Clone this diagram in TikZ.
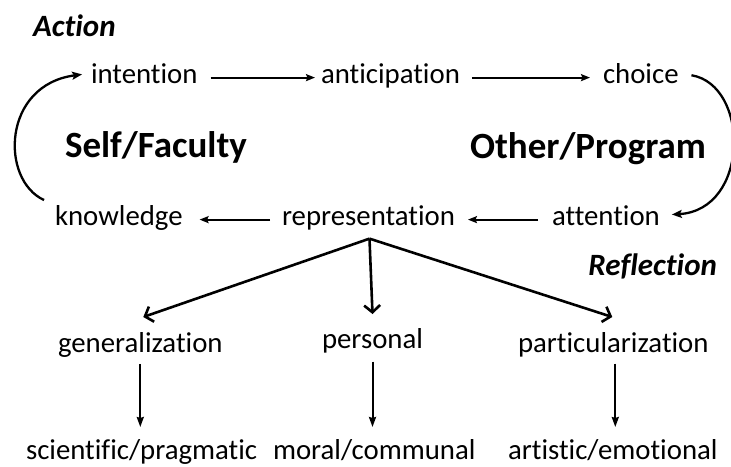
\documentclass[tikz,border=0pt]{standalone}
\usepackage{fontspec}
\setmainfont{Carlito}[Ligatures={NoCommon,NoContextual}]
\usetikzlibrary{arrows.meta,calc}
\begin{document}
\begin{tikzpicture}[x=1pt,y=-1pt,
  lbl/.style={inner sep=0pt,outer sep=0pt,font=\fontsize{28.8}{30}\selectfont,anchor=base west},
  big/.style={inner sep=0pt,outer sep=0pt,font=\fontsize{37}{40}\selectfont\bfseries},
  ttl/.style={inner sep=0pt,outer sep=0pt,font=\fontsize{31}{34}\selectfont\bfseries\itshape},
  harr/.style={line width=2pt,-{Stealth[length=9pt,width=7pt,inset=1.5pt]}},
  carr/.style={line width=2.3pt,-{Stealth[length=10pt,width=8pt,inset=2pt]}},
  farr/.style={line width=2.6pt,-{Straight Barb[length=7pt,width=16pt]}},
  varr/.style={line width=2pt,-{Stealth[length=10pt,width=7pt,inset=1pt]}}]
\useasboundingbox (0,0) rectangle (731,466);
% titles
\node[ttl,anchor=base west] (action) at (33,36) {Action};
\node[ttl,anchor=base east] (reflection) at (717,275) {Reflection};
\node[big,anchor=base west] (self) at (65,157) {Self/Faculty};
\node[big,anchor=base east] (other) at (706,158) {Other/Program};
% cycle
\node[lbl] (intention) at (91,83) {intention};
\node[lbl] (anticipation) at (321,83) {anticipation};
\node[lbl] (choice) at (603,83) {choice};
\node[lbl] (knowledge) at (55,225) {knowledge};
\node[lbl] (representation) at (282,225) {representation};
\node[lbl] (attention) at (552,225) {attention};
% reflection tree
\node[lbl] (general) at (58,352) {generalization};
\node[lbl] (personal) at (322,348) {personal};
\node[lbl] (particular) at (518,352) {particularization};
\node[lbl] (scientific) at (26,459) {scientific/pragmatic};
\node[lbl] (moral) at (273,459) {moral/communal};
\node[lbl] (artistic) at (508,459) {artistic/emotional};
% horizontal arrows
\draw[harr,shorten <=13pt,shorten >=6pt] ([yshift=3pt]intention.mid east) -- ([yshift=3pt]anticipation.mid west);
\draw[harr,shorten <=12pt,shorten >=13pt] ([yshift=3pt]anticipation.mid east) -- ([yshift=3pt]choice.mid west);
\draw[harr,shorten <=14pt,shorten >=13pt] ([yshift=3pt]attention.mid west) -- ([yshift=3pt]representation.mid east);
\draw[harr,shorten <=12pt,shorten >=17pt] ([yshift=3pt]representation.mid west) -- ([yshift=3pt]knowledge.mid east);
% curved arrows
\draw[carr,shorten <=13pt,shorten >=12pt] (choice.east) .. controls (750,85) and (750,210) .. (attention.east);
\draw[carr,shorten <=12pt,shorten >=9pt] (knowledge.north west) .. controls (0,180) and (2,85) .. (intention.west);
% fan
\coordinate (apex) at ($(representation.south)+(1,9)$);
\coordinate (gtop) at ([xshift=3pt,yshift=15pt]general.north);
\coordinate (ptop) at ([yshift=14pt]personal.north);
\coordinate (qtop) at ([xshift=-1pt,yshift=15pt]particular.north);
\draw[farr] (apex) -- (gtop);
\draw[farr] (apex) -- (ptop);
\draw[farr] (apex) -- (qtop);
% vertical arrows
\draw[varr,shorten <=7pt,shorten >=12pt] (general.south) -- (general.south |- scientific.north);
\draw[varr,shorten <=9pt,shorten >=12pt] (personal.south) -- (personal.south |- moral.north);
\draw[varr,shorten <=7pt,shorten >=12pt] ([xshift=2pt]particular.south) -- ([xshift=2pt]particular.south |- artistic.north);
\end{tikzpicture}
\end{document}
